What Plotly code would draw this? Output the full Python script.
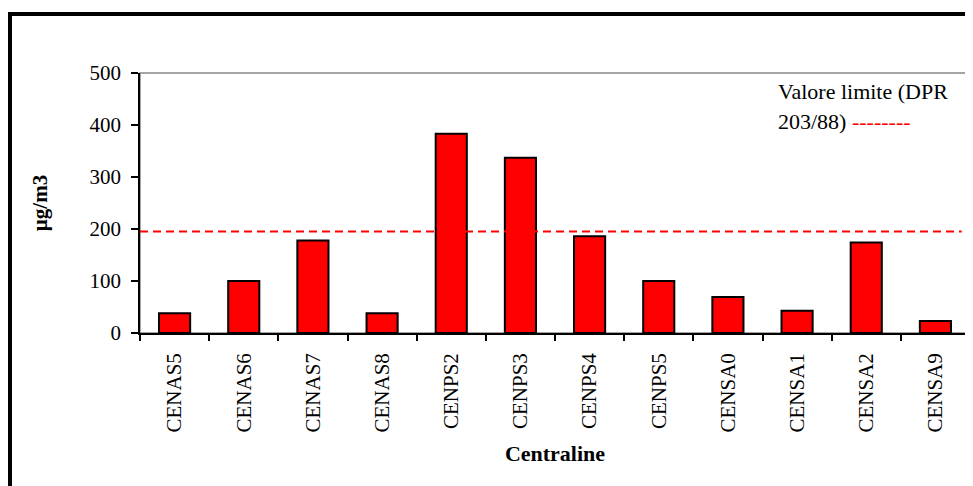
import plotly.graph_objects as go

categories = ["CENAS5", "CENAS6", "CENAS7", "CENAS8", "CENPS2", "CENPS3",
              "CENPS4", "CENPS5", "CENSA0", "CENSA1", "CENSA2", "CENSA9"]
values = [38, 100, 178, 38, 383, 337, 186, 100, 69, 43, 174, 23]
limit_value = 195
limit_label_1 = "Valore limite (DPR"
limit_label_2 = "203/88)"
y_ticks = [0, 100, 200, 300, 400, 500]

FONT = "Liberation Serif, Times New Roman, serif"

OFF = 8  # page body margin
W, H = 973 - OFF, 486 - OFF
L, R, T = 140 - OFF, 3, 73 - OFF
B = H - (333 - OFF)
pw, ph = W - L - R, H - T - B

def px_x(p):
    return (p - OFF - L) / pw

def px_y(p):
    return (H - B - (p - OFF)) / ph

fig = go.Figure()
fig.add_trace(go.Bar(
    x=categories, y=values,
    marker=dict(color="#FF0000", line=dict(color="black", width=2)),
    showlegend=False,
))

fig.add_shape(type="line", xref="paper", yref="y",
              x0=0, x1=0.99, y0=limit_value, y1=limit_value,
              line=dict(color="#FF0000", width=2, dash="8px,5px"))

# plot-area border (gray)
fig.add_shape(type="rect", xref="paper", yref="paper", x0=0, x1=1, y0=0, y1=1,
              line=dict(color="#888888", width=1.5), layer="below")
# outer black frame
fig.add_shape(type="rect", xref="paper", yref="paper",
              x0=px_x(10), x1=px_x(1100), y0=px_y(600), y1=px_y(14),
              line=dict(color="black", width=4))

fig.add_annotation(
    xref="paper", yref="paper", x=px_x(776), y=px_y(98),
    xanchor="left", yanchor="bottom", align="left", showarrow=False,
    text=limit_label_1, yshift=-8,
    font=dict(family=FONT, size=22, color="black"),
)
fig.add_annotation(
    xref="paper", yref="paper", x=px_x(776), y=px_y(129),
    xanchor="left", yanchor="bottom", align="left", showarrow=False,
    text=limit_label_2 + " <span style='color:#FF0000'>--------</span>", yshift=-7,
    font=dict(family=FONT, size=22, color="black"),
)

fig.update_layout(
    width=W, height=H,
    margin=dict(l=L, r=R, t=T, b=B, autoexpand=False),
    paper_bgcolor="white", plot_bgcolor="white",
    bargap=0.55,
    font=dict(family=FONT, color="black"),
    xaxis=dict(
        type="category", tickangle=-90, tickson="boundaries",
        ticks="outside", ticklen=6, tickwidth=1.5, tickcolor="black",
        showline=True, linecolor="black", linewidth=1.5,
        showgrid=False, tickfont=dict(family=FONT, size=21),
        ticklabelstandoff=10,
        title=dict(text="<b>Centraline</b>", font=dict(family=FONT, size=22), standoff=14),
        automargin=False,
    ),
    yaxis=dict(
        range=[0, 500], tickvals=y_ticks,
        ticks="outside", ticklen=7, tickwidth=1.5, tickcolor="black",
        showline=True, linecolor="black", linewidth=1.5,
        showgrid=False, zeroline=False, tickfont=dict(family=FONT, size=21),
        ticklabelstandoff=6,
        title=dict(text="<b>µg/m3</b>", font=dict(family=FONT, size=21), standoff=36),
        automargin=False,
    ),
)

fig.write_html("out.html")
